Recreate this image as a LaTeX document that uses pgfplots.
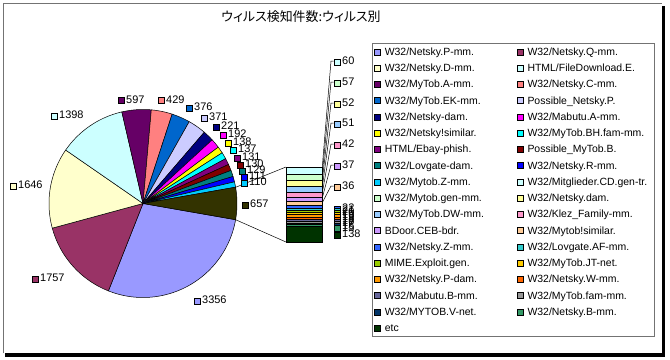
\documentclass[border=0pt]{standalone}
\usepackage{fontspec}
\setmainfont{Liberation Sans}
\newfontfamily\cjk[RawFeature=+palt]{Noto Sans CJK JP}
\usepackage{pgfplots}
\pgfplotsset{compat=1.18}

\definecolor{c1}{HTML}{9999FF}
\definecolor{c2}{HTML}{993366}
\definecolor{c3}{HTML}{FFFFCC}
\definecolor{c4}{HTML}{CCFFFF}
\definecolor{c5}{HTML}{660066}
\definecolor{c6}{HTML}{FF8080}
\definecolor{c7}{HTML}{0066CC}
\definecolor{c8}{HTML}{CCCCFF}
\definecolor{c9}{HTML}{000080}
\definecolor{c10}{HTML}{FF00FF}
\definecolor{c11}{HTML}{FFFF00}
\definecolor{c12}{HTML}{00FFFF}
\definecolor{c13}{HTML}{800080}
\definecolor{c14}{HTML}{800000}
\definecolor{c15}{HTML}{008080}
\definecolor{c16}{HTML}{0000FF}
\definecolor{c17}{HTML}{00CCFF}
\definecolor{c18}{HTML}{CCFFFF}
\definecolor{c19}{HTML}{CCFFCC}
\definecolor{c20}{HTML}{FFFF99}
\definecolor{c21}{HTML}{99CCFF}
\definecolor{c22}{HTML}{FF99CC}
\definecolor{c23}{HTML}{CC99FF}
\definecolor{c24}{HTML}{FFCC99}
\definecolor{c25}{HTML}{3366FF}
\definecolor{c26}{HTML}{33CCCC}
\definecolor{c27}{HTML}{99CC00}
\definecolor{c28}{HTML}{FFCC00}
\definecolor{c29}{HTML}{FF9900}
\definecolor{c30}{HTML}{FF6600}
\definecolor{c31}{HTML}{666699}
\definecolor{c32}{HTML}{969696}
\definecolor{c33}{HTML}{003366}
\definecolor{c34}{HTML}{339966}
\definecolor{c35}{HTML}{003300}
\definecolor{cother}{HTML}{333300}

% pie values (clockwise from the "other" slice), last one = sum of the bar
\newcommand\piedata{3356/c1,1757/c2,1646/c3,1398/c4,597/c5,429/c6,376/c7,371/c8,221/c9,192/c10,138/c11,137/c12,131/c13,130/c14,129/c15,111/c16,110/c17,657/cother}
\newcommand\pieother{657}

\newcommand\keybox[1]{{\setlength\fboxsep{0pt}\setlength\fboxrule{0.5bp}\fcolorbox{black}{#1}{\rule{0pt}{5.5bp}\rule{5.5bp}{0pt}}}}
\newcommand\plab[4]{\node[anchor=west,inner sep=0pt,font=\fontsize{11}{11}\selectfont] at (axis cs:#1,#2) {\keybox{#3}\hspace{1.5bp}#4};}

\pgfplotsset{sq/.style={fill=#1,draw=black,line width=0.5bp,legend image code/.code={\draw[##1] (0bp,-3bp) rectangle (6bp,3bp);}}}

\begin{document}
\begin{tikzpicture}
\begin{scope}[x=1bp,y=-1bp,yshift=360bp]
\fill[black] (5,6) rectangle (665,356.7);
\fill[white] (3,3) rectangle (662,353.3);
\draw[black!55,line width=1.3bp] (3.5,353.3) -- (3.5,3.5) -- (662,3.5);
\end{scope}

\gdef\pietotal{0}
\foreach \v/\col in \piedata {\pgfmathparse{\pietotal+\v}\xdef\pietotal{\pgfmathresult}}
\pgfmathparse{-\pieother/\pietotal*180}\xdef\pieang{\pgfmathresult}

\begin{axis}[at={(0,0)},anchor=south west,x=1bp,y=1bp,xmin=0,xmax=670,ymin=0,ymax=360,y dir=reverse,hide axis,clip=false]
\foreach \v/\col in \piedata {
  \pgfmathsetmacro\angB{\pieang-\v/\pietotal*360}
  \edef\tmp{\noexpand\addplot[fill=\col,draw=black,line width=0.5bp,domain=\angB:\pieang,samples=60,variable=\noexpand\t,forget plot] ({143+94*cos(\noexpand\t)},{203.5-94*sin(\noexpand\t)}) -- (axis cs:143,203.5) -- cycle;}
  \tmp
  \xdef\pieang{\angB}
}
\node[font=\cjk\fontsize{13}{13}\selectfont] at (axis cs:301,17) {ウィルス検知件数:ウィルス別};
% connectors pie -> bar
\draw[line width=0.5bp] (axis cs:235.6,187.3) -- (axis cs:286,167);
\draw[line width=0.5bp] (axis cs:235.6,219.7) -- (axis cs:286,242);
% pie labels
\plab{118}{99.5}{c5}{597}
\plab{158}{99.5}{c6}{429}
\plab{186}{107}{c7}{376}
\plab{201}{117}{c8}{371}
\plab{213}{126}{c9}{221}
\plab{220}{134}{c10}{192}
\plab{225}{142}{c11}{138}
\plab{230}{149}{c12}{137}
\plab{234}{157}{c13}{131}
\plab{237}{164}{c14}{130}
\plab{239}{170}{c15}{129}
\plab{241}{176}{c16}{111}
\plab{241}{182}{c17}{110}
\plab{242}{204}{cother}{657}
\plab{194}{300}{c1}{3356}
\plab{32}{278}{c2}{1757}
\plab{10}{185}{c3}{1646}
\plab{51}{115}{c4}{1398}
% bar leader lines
\draw[line width=0.5bp] (axis cs:322,170.4) -- (axis cs:331,61) -- (axis cs:333.5,61);
\draw[line width=0.5bp] (axis cs:322,177.1) -- (axis cs:331,82) -- (axis cs:333.5,82);
\draw[line width=0.5bp] (axis cs:322,183.3) -- (axis cs:331,103) -- (axis cs:333.5,103);
\draw[line width=0.5bp] (axis cs:322,189.2) -- (axis cs:331,123) -- (axis cs:333.5,123);
\draw[line width=0.5bp] (axis cs:322,194.5) -- (axis cs:331,144) -- (axis cs:333.5,144);
\draw[line width=0.5bp] (axis cs:322,199.0) -- (axis cs:331,165) -- (axis cs:333.5,165);
\draw[line width=0.5bp] (axis cs:322,203.2) -- (axis cs:331,186) -- (axis cs:333.5,186);
% bar labels
\plab{334}{61}{c18}{60}
\plab{334}{82}{c19}{57}
\plab{334}{103}{c20}{52}
\plab{334}{123}{c21}{51}
\plab{334}{144}{c22}{42}
\plab{334}{165}{c23}{37}
\plab{334}{186}{c24}{36}
\plab{334}{208}{c25}{22}
\plab{334}{210.2}{c26}{21}
\plab{334}{212.4}{c27}{20}
\plab{334}{214.6}{c28}{19}
\plab{334}{216.8}{c29}{19}
\plab{334}{219}{c30}{18}
\plab{334}{221.2}{c31}{18}
\plab{334}{223.4}{c32}{17}
\plab{334}{225.6}{c33}{15}
\plab{334}{227.8}{c34}{15}
\plab{334}{234}{c35}{138}
\end{axis}

\begin{axis}[at={(286bp,118bp)},anchor=south west,scale only axis,width=36bp,height=75bp,
  ybar stacked,bar width=36bp,xmin=-0.5,xmax=0.5,ymin=0,ymax=657,y dir=reverse,hide axis,clip=false,
  legend columns=2,legend cell align=left,
  legend style={at={(2.3889,2.6533)},anchor=north west,draw=black!55,line width=0.6bp,fill=white,
    inner xsep=1.5bp,inner ysep=3.2bp,font=\fontsize{10.5}{10.5}\selectfont,row sep=5.24bp,
    nodes={inner sep=0pt,text height=9bp,text depth=2bp,text width=125bp},
    /tikz/every odd column/.append style={column sep=4.5bp},
    /tikz/every even column/.append style={column sep=6.7bp}}]
\addlegendimage{sq=c1}
\addlegendimage{sq=c2}
\addlegendimage{sq=c3}
\addlegendimage{sq=c4}
\addlegendimage{sq=c5}
\addlegendimage{sq=c6}
\addlegendimage{sq=c7}
\addlegendimage{sq=c8}
\addlegendimage{sq=c9}
\addlegendimage{sq=c10}
\addlegendimage{sq=c11}
\addlegendimage{sq=c12}
\addlegendimage{sq=c13}
\addlegendimage{sq=c14}
\addlegendimage{sq=c15}
\addlegendimage{sq=c16}
\addlegendimage{sq=c17}
\addplot[sq=c18] coordinates {(0,60)};
\addplot[sq=c19] coordinates {(0,57)};
\addplot[sq=c20] coordinates {(0,52)};
\addplot[sq=c21] coordinates {(0,51)};
\addplot[sq=c22] coordinates {(0,42)};
\addplot[sq=c23] coordinates {(0,37)};
\addplot[sq=c24] coordinates {(0,36)};
\addplot[sq=c25] coordinates {(0,22)};
\addplot[sq=c26] coordinates {(0,21)};
\addplot[sq=c27] coordinates {(0,20)};
\addplot[sq=c28] coordinates {(0,19)};
\addplot[sq=c29] coordinates {(0,19)};
\addplot[sq=c30] coordinates {(0,18)};
\addplot[sq=c31] coordinates {(0,18)};
\addplot[sq=c32] coordinates {(0,17)};
\addplot[sq=c33] coordinates {(0,15)};
\addplot[sq=c34] coordinates {(0,15)};
\addplot[sq=c35] coordinates {(0,138)};
\legend{W32/Netsky.P-mm.,W32/Netsky.Q-mm.,W32/Netsky.D-mm.,HTML/FileDownload.E.,W32/MyTob.A-mm.,W32/Netsky.C-mm.,W32/MyTob.EK-mm.,Possible\_Netsky.P.,W32/Netsky-dam.,W32/Mabutu.A-mm.,W32/Netsky!similar.,W32/MyTob.BH.fam-mm.,HTML/Ebay-phish.,Possible\_MyTob.B.,W32/Lovgate-dam.,W32/Netsky.R-mm.,W32/Mytob.Z-mm.,W32/Mitglieder.CD.gen-tr.,W32/Mytob.gen-mm.,W32/Netsky.dam.,W32/MyTob.DW-mm.,W32/Klez\_Family-mm.,BDoor.CEB-bdr.,W32/Mytob!similar.,W32/Netsky.Z-mm.,W32/Lovgate.AF-mm.,MIME.Exploit.gen.,W32/MyTob.JT-net.,W32/Netsky.P-dam.,W32/Netsky.W-mm.,W32/Mabutu.B-mm.,W32/MyTob.fam-mm.,W32/MYTOB.V-net.,W32/Netsky.B-mm.,etc}
\end{axis}
\pgfresetboundingbox
\path (0,0) rectangle (670bp,360bp);
\end{tikzpicture}
\end{document}
